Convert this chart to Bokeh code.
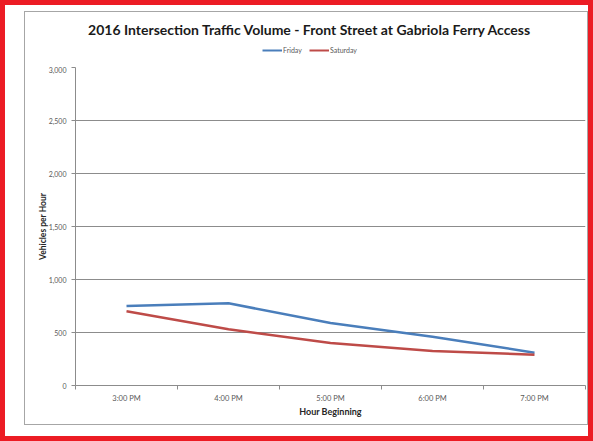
from bokeh.plotting import figure
from bokeh.layouts import column
from bokeh.models import (Range1d, FixedTicker, NumeralTickFormatter, Label,
                          Legend, LegendItem, ColumnDataSource)
from bokeh.embed import file_html
from bokeh.resources import INLINE

# Hourly traffic counts (vehicles per hour)
hours = ["3:00 PM", "4:00 PM", "5:00 PM", "6:00 PM", "7:00 PM"]
friday = [750, 775, 590, 460, 310]
saturday = [700, 530, 400, 325, 290]
y_ticks = [0, 500, 1000, 1500, 2000, 2500, 3000]
series = ["Friday", "Saturday"]

FONT = "Lato"
BLUE = "#4A7EBB"
RED = "#BE4B48"
GRID = "#8c8c8c"
TEXT = "#595959"
INNER_W = 562
HEAD_H = 54

centres = [i + 0.5 for i in range(len(hours))]
bounds = [float(i) for i in range(len(hours) + 1)]
src = ColumnDataSource(dict(x=centres, fri=friday, sat=saturday))

# ---- header strip: title and legend (its frame lines up with the chart's) ----
head = figure(width=INNER_W, height=HEAD_H, output_backend="svg",
              toolbar_location=None, x_axis_location=None, y_axis_location=None,
              x_range=Range1d(75, 585), y_range=Range1d(0, HEAD_H),
              min_border=0)
head.outline_line_color = None
head.grid.visible = False
head.background_fill_color = "white"
head.border_fill_color = "white"

head.add_layout(Label(x=309.5, y=HEAD_H - 17,
                      text="2016 Intersection Traffic Volume - Front Street at Gabriola Ferry Access",
                      text_font=FONT, text_font_style="bold", text_font_size="14px",
                      text_color="#1a1a1a", text_align="center", text_baseline="middle"))

# legend swatches: the series drawn in the header fall outside its ranges
k_fri = head.line("x", "fri", source=src, line_color=BLUE, line_width=2)
k_sat = head.line("x", "sat", source=src, line_color=RED, line_width=2)
legend = Legend(items=[LegendItem(label=series[0], renderers=[k_fri]),
                       LegendItem(label=series[1], renderers=[k_sat])],
                orientation="horizontal", location=(187, 12),
                label_text_font=FONT, label_text_font_size="7px",
                label_text_color=TEXT, glyph_width=20, glyph_height=8,
                label_standoff=1, spacing=6, padding=0, margin=0,
                border_line_color=None, background_fill_alpha=0,
                label_height=8)
head.add_layout(legend, "center")

# ---- main chart ----
p = figure(width=INNER_W, height=358, output_backend="svg", toolbar_location=None,
           x_range=Range1d(0, len(hours)), y_range=Range1d(0, 3000),
           min_border_left=50, min_border_right=2,
           min_border_top=1, min_border_bottom=39)
p.background_fill_color = "white"
p.border_fill_color = "white"
p.outline_line_color = None

p.xgrid.grid_line_color = None
p.ygrid.grid_line_color = GRID
p.ygrid.grid_line_width = 1
p.ygrid.ticker = FixedTicker(ticks=y_ticks)

ya = p.yaxis[0]
ya.ticker = FixedTicker(ticks=y_ticks)
ya.formatter = NumeralTickFormatter(format="0,0")
ya.axis_line_color = GRID
ya.major_tick_line_color = GRID
ya.major_tick_out = 4
ya.major_tick_in = 0
ya.minor_tick_line_color = None
ya.major_label_text_font = FONT
ya.major_label_text_font_size = "7px"
ya.major_label_text_color = TEXT
ya.major_label_standoff = 5
ya.axis_label = "Vehicles per Hour"
ya.axis_label_text_font = FONT
ya.axis_label_text_font_style = "bold"
ya.axis_label_text_font_size = "8.5px"
ya.axis_label_text_color = "#262626"
ya.axis_label_standoff = -2

# x axis: labels at category centres, tick marks at the boundaries
xa = p.xaxis[0]
xa.ticker = FixedTicker(ticks=centres, minor_ticks=bounds)
xa.major_label_overrides = {c: h for c, h in zip(centres, hours)}
xa.axis_line_color = GRID
xa.major_tick_line_color = None
xa.minor_tick_line_color = GRID
xa.minor_tick_out = 4
xa.minor_tick_in = 0
xa.major_label_text_font = FONT
xa.major_label_text_font_size = "7.5px"
xa.major_label_text_color = TEXT
xa.major_label_standoff = 2
xa.axis_label = "Hour Beginning"
xa.axis_label_text_font = FONT
xa.axis_label_text_font_style = "bold"
xa.axis_label_text_font_size = "9px"
xa.axis_label_text_color = "#262626"
xa.axis_label_standoff = 0

p.line("x", "fri", source=src, line_color=BLUE, line_width=2.5)
p.line("x", "sat", source=src, line_color=RED, line_width=2.5)

# chart area with thin grey border, on a page with a red frame
chart = column(head, p, spacing=0, styles={"border": "1px solid #a6a6a6"})
page = column(chart, width=593, height=441,
              styles={"border": "5px solid #EC1C24", "box-sizing": "border-box",
                      "padding": "6px 0 0 19px", "background-color": "white",
                      "overflow": "hidden"})

open("out.html", "w").write(file_html(page, INLINE))
